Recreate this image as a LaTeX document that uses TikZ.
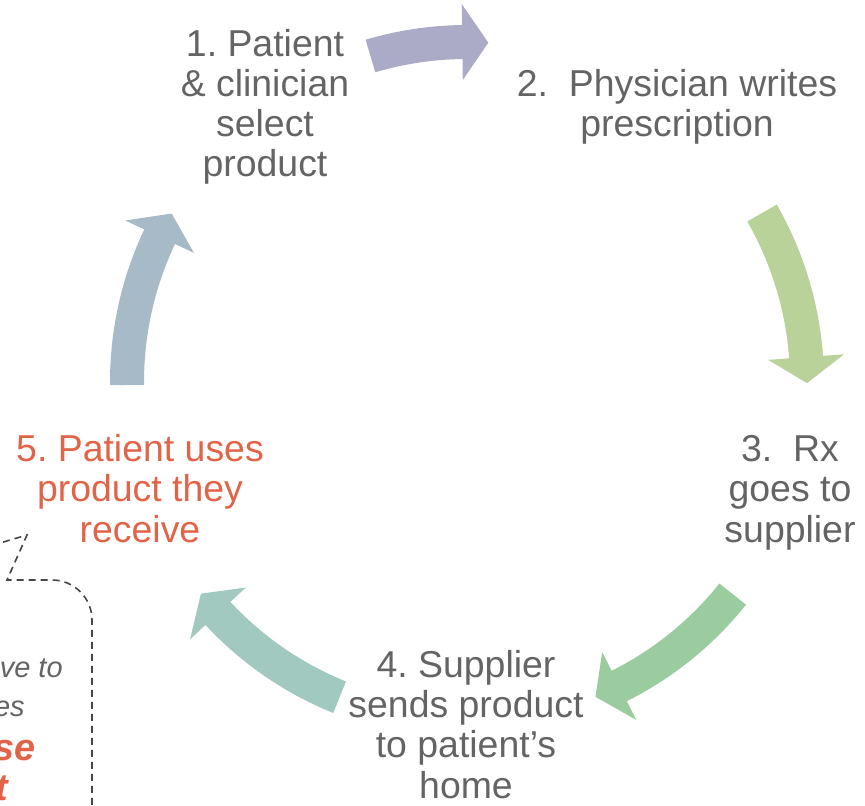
\documentclass[tikz,border=0pt]{standalone}
\usepackage{fontspec}
\setmainfont{Liberation Sans}
\usepackage{xcolor}
\usepackage{tikz}
\usetikzlibrary{calc}
\frenchspacing
\definecolor{textGray}{RGB}{100,100,100}
\definecolor{alertRed}{RGB}{225,100,72}
\definecolor{noteGray}{RGB}{70,70,70}
\definecolor{arrowOne}{RGB}{172,171,199}
\definecolor{arrowTwo}{RGB}{185,210,154}
\definecolor{arrowThree}{RGB}{155,204,160}
\definecolor{arrowFour}{RGB}{161,201,191}
\definecolor{arrowFive}{RGB}{167,186,200}
\tikzset{
    stage/.style={
        align=center,
        text=textGray,
        inner sep=0pt,
        anchor=base,
        font=\fontsize{21.3}{22.8}\selectfont
    },
    callout/.style={
        draw=noteGray,
        line width=0.9pt,
        dash pattern=on 0.14cm off 0.1cm
    },
    notetext/.style={
        inner sep=0pt,
        anchor=base east,
        text=textGray,
        font=\fontsize{16.5}{19}\selectfont\itshape
    },
    notealert/.style={
        notetext,
        text=alertRed,
        font=\fontsize{21.5}{24}\selectfont\bfseries\itshape
    }
}
% curved block arrow on the ring: colour, tail angle, tip angle
\newcommand{\ringarrow}[3]{%
    \fill[#1] (#2:357) arc[start angle=#2, end angle={#3+4.4}, radius=357]
        -- ({#3+4.4}:378) -- (#3:340) -- ({#3+4.4}:302) -- ({#3+4.4}:323)
        arc[start angle={#3+4.4}, end angle=#2, radius=323] -- cycle;%
}

\begin{document}
\begin{tikzpicture}[x=0.02cm, y=0.02cm]
    \useasboundingbox (0,0) rectangle (865,805);

    % the ring of arrows
    \begin{scope}[shift={(467,423)}]
        \ringarrow{arrowOne}{106.5}{86.4}
        \ringarrow{arrowTwo}{29.8}{-0.2}
        \ringarrow{arrowThree}{-38.6}{-67.8}
        \ringarrow{arrowFour}{-112}{-141.5}
        \ringarrow{arrowFive}{180.5}{150.3}
    \end{scope}

    % steps (base = last line)
    \node[stage] (select) at (265,628) {1. Patient\\\& clinician\\select\\product};
    \node[stage] (write) at (677,668) {2.\ \ Physician writes\\prescription};
    \node[stage] (supplier) at (790,263) {3.\ \ Rx\\goes to\\supplier};
    \node[stage] (ship) at (466,7) {4. Supplier\\sends product\\to patient’s\\home};
    \node[stage, text=alertRed] (use) at (140,263) {5. Patient uses\\product they\\receive};

    % callout
    \draw[callout] (-20,256) -- (27,270) -- (7,225)
        [rounded corners=0.8cm] -- (92,225) -- (92,-25);
    \node[notetext] (noteA) at (63,128) {ve to};
    \node[notetext] (noteB) at (25,89) {es};
    \node[notealert] (noteC) at (36,45) {se};
    \node[notealert] (noteD) at (8,5) {t};
\end{tikzpicture}
\end{document}
